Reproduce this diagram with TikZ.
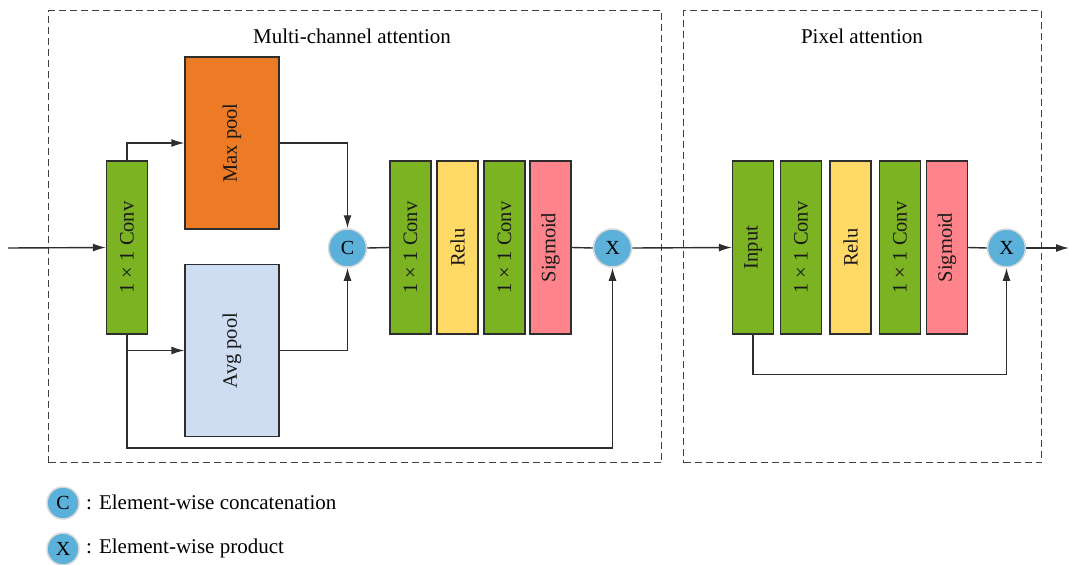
\documentclass[tikz,border=0pt]{standalone}
\usepackage{fontspec}
\setmainfont{Liberation Serif}
\usetikzlibrary{arrows.meta}
\definecolor{cgreen}{HTML}{7BB323}
\definecolor{corange}{HTML}{ED7B25}
\definecolor{cblue}{HTML}{CFDDF2}
\definecolor{cyellow}{HTML}{FFD966}
\definecolor{cpink}{HTML}{FF838A}
\definecolor{ccirc}{HTML}{5CB1DB}
\definecolor{cline}{HTML}{2E2E2E}
\tikzset{
  blk/.style={draw=cline, line width=1.2pt, minimum width=41pt, minimum height=173pt, inner sep=0pt},
  pool/.style={draw=cline, line width=1.2pt, minimum width=94pt, minimum height=172pt, inner sep=0pt},
  rot/.style={rotate=90, font=\fontsize{20.5}{24}\selectfont, text=black!90},
  op/.style={circle, fill=ccirc, draw=black!15, line width=1.5pt, minimum size=38pt, inner sep=0pt, font=\fontsize{20}{24}\selectfont},
  lop/.style={circle, fill=ccirc, draw=black!15, line width=1.5pt, minimum size=32pt, inner sep=0pt, font=\fontsize{20}{24}\selectfont},
  conn/.style={draw=cline, line width=1.4pt},
  arr/.style={conn, -{Latex[length=13pt,width=8pt]}},
  grp/.style={draw=black!75, line width=1.2pt, dash pattern=on 7pt off 4pt},
  ttl/.style={font=\fontsize{21}{25}\selectfont},
}
\begin{document}
\begin{tikzpicture}[x=1pt,y=-1pt]
\useasboundingbox (0,0) rectangle (1069,565);
% group boxes
\node[grp, minimum width=613pt, minimum height=452pt, anchor=north west, inner sep=0pt] (g1) at (48,10) {};
\node[grp, minimum width=358pt, minimum height=452pt, anchor=north west, inner sep=0pt] (g2) at (683,10) {};
\node[ttl] (t1) at (352,36) {Multi-channel attention};
\node[ttl] (t2) at (862,36) {Pixel attention};
% multi-channel blocks
\node[blk, fill=cgreen] (conv1) at (127,247.5) {};
\node[rot] at (conv1) {1 × 1 Conv};
\node[pool, fill=corange] (maxp) at (232,143) {};
\node[rot] at (maxp) {Max pool};
\node[pool, fill=cblue] (avgp) at (232,350.5) {};
\node[rot] at (avgp) {Avg pool};
\node[op] (C1) at (347.5,248) {C};
\node[blk, fill=cgreen] (conv2) at (410.5,247.5) {};
\node[rot] at (conv2) {1 × 1 Conv};
\node[blk, fill=cyellow] (relu1) at (457.5,247.5) {};
\node[rot] at (relu1) {Relu};
\node[blk, fill=cgreen] (conv3) at (504.5,247.5) {};
\node[rot] at (conv3) {1 × 1 Conv};
\node[blk, fill=cpink] (sig1) at (550.5,247.5) {};
\node[rot] at (sig1) {Sigmoid};
\node[op] (X1) at (612.5,248) {X};
% pixel attention blocks
\node[blk, fill=cgreen] (inp) at (753,247.5) {};
\node[rot] at (inp) {Input};
\node[blk, fill=cgreen] (conv4) at (801,247.5) {};
\node[rot] at (conv4) {1 × 1 Conv};
\node[blk, fill=cyellow] (relu2) at (850.5,247.5) {};
\node[rot] at (relu2) {Relu};
\node[blk, fill=cgreen] (conv5) at (900,247.5) {};
\node[rot] at (conv5) {1 × 1 Conv};
\node[blk, fill=cpink] (sig2) at (947,247.5) {};
\node[rot] at (sig2) {Sigmoid};
\node[op] (X2) at (1006.5,248) {X};
% coordinates
\coordinate (in) at (8,248);
\coordinate (low1) at (127,448);
\coordinate (low2) at (753,374.5);
\coordinate (out) at (1069,248);
% connectors
\draw[arr] (in) -- (conv1.west);
\draw[arr] (conv1.north) |- (maxp.west);
\draw[arr] (conv1.south) |- (avgp.west);
\draw[arr] (maxp.east) -| (C1.north);
\draw[arr] (avgp.east) -| (C1.south);
\draw[conn] (C1.east) -- (conv2.west);
\draw[conn] (sig1.east) -- (X1.west);
\draw[arr] (conv1.south) -- (low1) -| (X1.south);
\draw[arr] (X1.east) -- (inp.west);
\draw[conn] (sig2.east) -- (X2.west);
\draw[arr] (X2.east) -- (out);
\draw[arr] (inp.south) -- (low2) -| (X2.south);
% legend
\node[lop] (lc) at (63,503) {C};
\node[ttl, anchor=west, inner sep=0pt] (lct) at (86,502) {: Element-wise concatenation};
\node[lop] (lx) at (63,549) {X};
\node[ttl, anchor=west, inner sep=0pt] (lxt) at (86,548) {: Element-wise product};
\end{tikzpicture}
\end{document}
